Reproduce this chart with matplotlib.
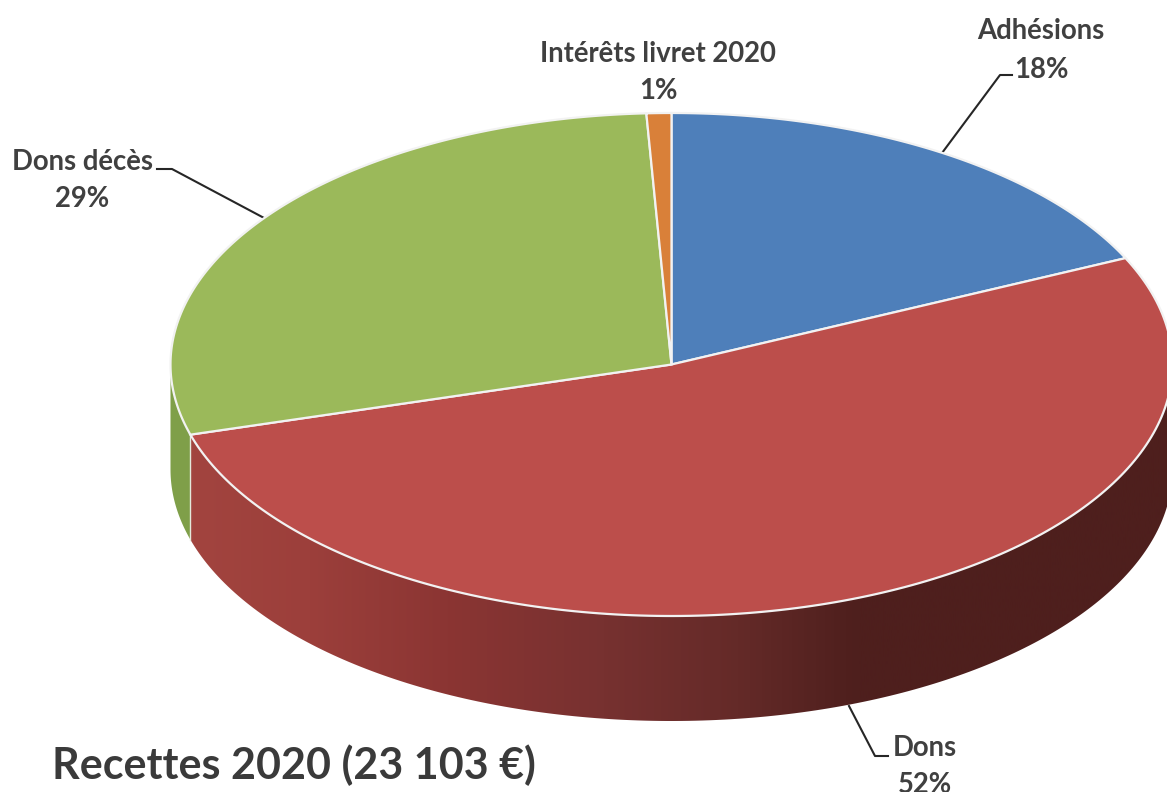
#!/usr/bin/env python3
import matplotlib
import matplotlib.pyplot as plt
import numpy as np
from matplotlib.colors import LinearSegmentedColormap
from matplotlib.patches import Polygon

matplotlib.use("Agg")

labels = ["Adhésions", "Dons", "Dons décès", "Intérêts livret 2020"]
shares = [18.05, 52.45, 28.7, 0.8]
top_colors = ["#4e7fba", "#bc4e4b", "#9bb95a", "#d98039"]

# pie geometry in image pixels
CX, CY, RX, RY, DEPTH = 671.5, 364.5, 501, 251.5, 105

label_pos = [(1041, 31, 70), (925, 748, 785), (82, 162, 199), (658, 54, 91)]
leaders = [
    [(942, 153), (1000, 75), (1012, 75)],
    [(849, 706), (875, 756), (888, 756)],
    [(266, 219), (172, 169), (157, 169)],
]


def arc(t0, t1, dy=0.0):
    t = np.radians(np.linspace(t0, t1, 200))
    return np.column_stack([CX + RX * np.sin(t), CY + dy - RY * np.cos(t)])


fig = plt.figure(figsize=(11.67, 7.92), dpi=100)
ax = fig.add_axes([0, 0, 1, 1])
ax.set_xlim(0, 1167)
ax.set_ylim(792, 0)
ax.axis("off")

edges = np.concatenate([[0], np.cumsum(shares)]) / sum(shares) * 360

# side wall, only the front half of the pie shows
green_side = Polygon(
    np.vstack([arc(edges[2], 270), arc(270, edges[2], DEPTH)]),
    facecolor="#7f9f49",
    edgecolor="none",
    zorder=1,
)
ax.add_patch(green_side)

red_wall = np.vstack([arc(90, edges[2]), arc(edges[2], 90, DEPTH)])
red_side = Polygon(red_wall, facecolor="none", edgecolor="none", zorder=2)
ax.add_patch(red_side)
side_cmap = LinearSegmentedColormap.from_list(
    "side",
    [
        (0.0, "#a2443f"),
        (0.12, "#9c3f3b"),
        (0.26, "#8b3533"),
        (0.42, "#773130"),
        (0.56, "#642a28"),
        (0.68, "#4e1f1d"),
        (1.0, "#4e1f1d"),
    ],
)
grad = ax.imshow(
    np.linspace(0, 1, 400).reshape(1, -1),
    extent=(190, 1172, 792, 0),
    cmap=side_cmap,
    aspect="auto",
    zorder=2,
)
grad.set_clip_path(red_side)
ax.set_xlim(0, 1167)
ax.set_ylim(792, 0)

# thin light seam between the green and red walls
seam = arc(edges[2], edges[2])[[0, -1]] + np.array([[0, 0], [0, DEPTH]])
ax.plot(seam[:, 0], seam[:, 1], color="#e4e8dc", lw=1.0, zorder=3)

# top faces
for i, color in enumerate(top_colors):
    pts = np.vstack([[CX, CY], arc(edges[i], edges[i + 1])])
    ax.add_patch(
        Polygon(pts, facecolor=color, edgecolor="#f2f2f2", linewidth=1.6, zorder=4)
    )

for pts in leaders:
    xy = np.array(pts)
    ax.plot(xy[:, 0], xy[:, 1], color="#262626", lw=1.5, zorder=3)

for name, share, (x, y1, y2) in zip(labels, shares, label_pos):
    ax.text(x, y1, name, ha="center", va="center", fontsize=19.8, fontweight="bold",
            family="Lato", color="#404040")
    ax.text(x, y2, f"{share:.0f}%", ha="center", va="center", fontsize=19.8,
            fontweight="bold", family="Lato", color="#404040")

ax.text(52, 765, "Recettes 2020 (23 103 €)", ha="left", va="center", fontsize=31,
        fontweight="bold", family="Lato", color="#3a3a3a")

plt.savefig("out.png", dpi=100)
plt.close()
